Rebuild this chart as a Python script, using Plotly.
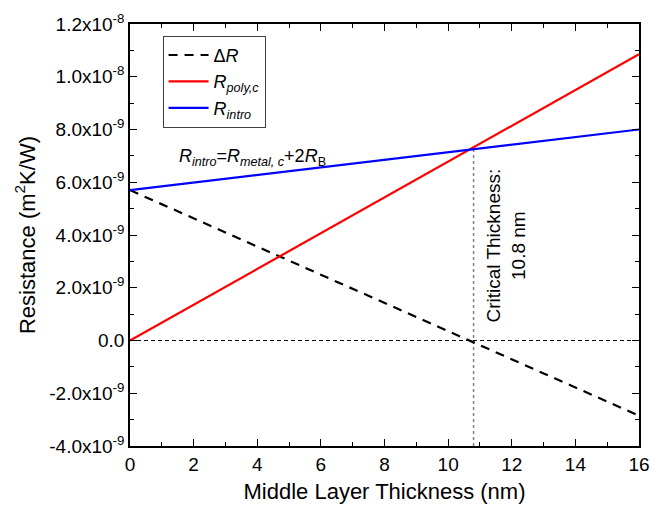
import plotly.graph_objects as go

thickness = [0, 16]
delta_r = [5.7e-9, -2.85e-9]
r_poly = [0.0, 1.085e-8]
r_intro = [5.7e-9, 8.0e-9]
critical_x = 10.8
critical_y = 7.32e-9

y_tickvals = [-4e-9, -2e-9, 0, 2e-9, 4e-9, 6e-9, 8e-9, 1.0e-8, 1.2e-8]
y_ticktext = ["-4.0x10<sup>-9</sup>", "-2.0x10<sup>-9</sup>", "0.0", "2.0x10<sup>-9</sup>",
              "4.0x10<sup>-9</sup>", "6.0x10<sup>-9</sup>", "8.0x10<sup>-9</sup>",
              "1.0x10<sup>-8</sup>", "1.2x10<sup>-8</sup>"]
x_tickvals = [0, 2, 4, 6, 8, 10, 12, 14, 16]

fig = go.Figure()
# zero reference line
fig.add_trace(go.Scatter(x=thickness, y=[0, 0], mode="lines",
                         line=dict(color="black", width=1, dash="4px,3px"),
                         showlegend=False, hoverinfo="skip"))
# critical thickness line
fig.add_trace(go.Scatter(x=[critical_x, critical_x], y=[-4e-9, critical_y], mode="lines",
                         line=dict(color="#808080", width=1.5, dash="3px,3px"),
                         showlegend=False, hoverinfo="skip"))
fig.add_trace(go.Scatter(x=thickness, y=delta_r, mode="lines", name="Δ<i>R</i>",
                         line=dict(color="black", width=2.2, dash="9px,7px")))
fig.add_trace(go.Scatter(x=thickness, y=r_poly, mode="lines",
                         name="<i>R</i><sub><i>poly,c</i></sub>",
                         line=dict(color="#ff0000", width=2.2)))
fig.add_trace(go.Scatter(x=thickness, y=r_intro, mode="lines",
                         name="<i>R</i><sub><i>intro</i></sub>",
                         line=dict(color="#0000ff", width=2.2)))

fig.add_annotation(x=1.48, y=6.95e-9, xref="x", yref="y", xanchor="left", yanchor="middle",
                   text="<i>R</i><sub><i>intro</i></sub>=<i>R</i><sub><i>metal, c</i></sub>+2<i>R</i><sub>B</sub>",
                   showarrow=False, font=dict(size=18, color="black"))
fig.add_annotation(x=11.82, y=3.6e-9, xref="x", yref="y", xanchor="center", yanchor="middle",
                   text="Critical Thickness:<br>10.8 nm", textangle=-90,
                   showarrow=False, font=dict(size=19, color="black"))

axis_common = dict(showline=True, linecolor="black", linewidth=1.5, mirror="ticks",
                   ticks="inside", ticklen=7, tickwidth=1.2, tickcolor="black",
                   showgrid=False, zeroline=False,
                   tickfont=dict(size=19, color="black"))
fig.update_xaxes(range=[0, 16], tickvals=x_tickvals,
                 minor=dict(ticks="inside", ticklen=4, dtick=1, tickcolor="black", tickwidth=1.2),
                 title=dict(text="Middle Layer Thickness (nm)", font=dict(size=22, color="black"), standoff=10),
                 **axis_common)
fig.update_yaxes(range=[-4e-9, 1.2e-8], tickvals=y_tickvals, ticktext=y_ticktext,
                 minor=dict(ticks="inside", ticklen=4, dtick=1e-9, tickcolor="black", tickwidth=1.2),
                 title=dict(text="Resistance (m<sup>2</sup>K/W)", font=dict(size=22, color="black"), standoff=8),
                 **axis_common)

fig.update_layout(width=661, height=511,
                  margin=dict(l=130, r=11, t=21, b=64),
                  paper_bgcolor="white", plot_bgcolor="white",
                  font=dict(family="Liberation Sans, Arial, sans-serif", color="black"),
                  legend=dict(x=0.064, y=0.972, xanchor="left", yanchor="top",
                              bordercolor="#404040", borderwidth=1, bgcolor="white",
                              font=dict(size=18, color="black"), tracegroupgap=0,
                              itemwidth=40))
fig.write_html("out.html")
